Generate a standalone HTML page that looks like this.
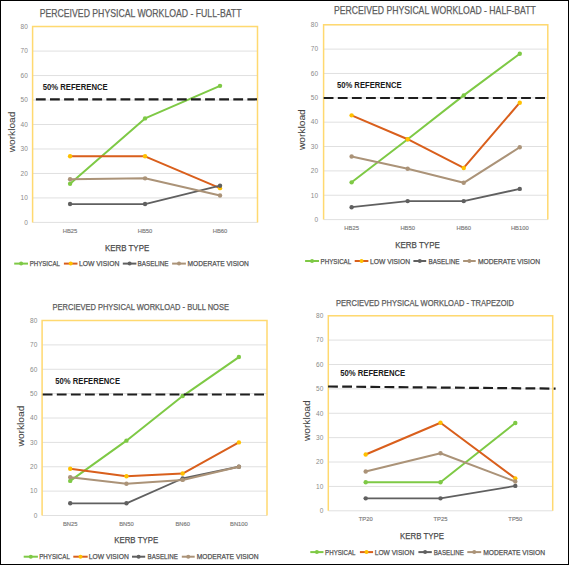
<!DOCTYPE html>
<html><head><meta charset="utf-8"><style>
html,body{margin:0;padding:0;background:#fff;}
body{width:569px;height:565px;overflow:hidden;}
svg{display:block;font-family:"Liberation Sans", sans-serif;}
#w{width:569px;height:565px;}
</style></head><body>
<div id="w"><svg width="569" height="565" viewBox="0 0 569 565">
<rect x="0" y="0" width="569" height="565" fill="#fff"/>
<g>
<line x1="32.6" y1="222.4" x2="257.5" y2="222.4" stroke="#e0e0e0" stroke-width="1"/>
<line x1="32.6" y1="197.93" x2="257.5" y2="197.93" stroke="#e0e0e0" stroke-width="1"/>
<line x1="32.6" y1="173.45" x2="257.5" y2="173.45" stroke="#e0e0e0" stroke-width="1"/>
<line x1="32.6" y1="148.97" x2="257.5" y2="148.97" stroke="#e0e0e0" stroke-width="1"/>
<line x1="32.6" y1="124.5" x2="257.5" y2="124.5" stroke="#e0e0e0" stroke-width="1"/>
<line x1="32.6" y1="100.02" x2="257.5" y2="100.02" stroke="#e0e0e0" stroke-width="1"/>
<line x1="32.6" y1="75.55" x2="257.5" y2="75.55" stroke="#e0e0e0" stroke-width="1"/>
<line x1="32.6" y1="51.07" x2="257.5" y2="51.07" stroke="#e0e0e0" stroke-width="1"/>
<line x1="32.6" y1="26.6" x2="257.5" y2="26.6" stroke="#e0e0e0" stroke-width="1"/>
<path d="M32.6 222.4 V26.6 H257.5 V222.4" fill="none" stroke="#ffd970" stroke-width="1.5"/>
<text x="27.8" y="224.7" font-size="6.5" fill="#8a8a8a" text-anchor="end">0</text>
<text x="27.8" y="200.23" font-size="6.5" fill="#8a8a8a" text-anchor="end">10</text>
<text x="27.8" y="175.75" font-size="6.5" fill="#8a8a8a" text-anchor="end">20</text>
<text x="27.8" y="151.28" font-size="6.5" fill="#8a8a8a" text-anchor="end">30</text>
<text x="27.8" y="126.8" font-size="6.5" fill="#8a8a8a" text-anchor="end">40</text>
<text x="27.8" y="102.32" font-size="6.5" fill="#8a8a8a" text-anchor="end">50</text>
<text x="27.8" y="77.85" font-size="6.5" fill="#8a8a8a" text-anchor="end">60</text>
<text x="27.8" y="53.37" font-size="6.5" fill="#8a8a8a" text-anchor="end">70</text>
<text x="27.8" y="28.9" font-size="6.5" fill="#8a8a8a" text-anchor="end">80</text>
<text x="39.7" y="16.8" font-size="11" fill="#5c5c5c" font-weight="normal" textLength="201.8" lengthAdjust="spacingAndGlyphs" stroke="#5c5c5c" stroke-width="0.25">PERCEIVED PHYSICAL WORKLOAD - FULL-BATT</text>
<text transform="translate(14.7 152.2) rotate(-90)" x="0" y="0" font-size="8.6" fill="#454545" stroke="#454545" stroke-width="0.08" textLength="40.5" lengthAdjust="spacingAndGlyphs">workload</text>
<text x="42.7" y="90.3" font-size="9.6" fill="#1a1a1a" font-weight="bold" textLength="65" lengthAdjust="spacingAndGlyphs">50% REFERENCE</text>
<text x="70.08" y="232.7" font-size="5.8" fill="#7a7a7a" stroke="#7a7a7a" stroke-width="0.15" text-anchor="middle">HB25</text>
<text x="145.05" y="232.7" font-size="5.8" fill="#7a7a7a" stroke="#7a7a7a" stroke-width="0.15" text-anchor="middle">HB50</text>
<text x="220.02" y="232.7" font-size="5.8" fill="#7a7a7a" stroke="#7a7a7a" stroke-width="0.15" text-anchor="middle">HB60</text>
<text x="104.9" y="251" font-size="9.8" fill="#4a4a4a" font-weight="normal" textLength="44.3" lengthAdjust="spacingAndGlyphs" stroke="#4a4a4a" stroke-width="0.25">KERB TYPE</text>
<polyline points="70.08,183.73 145.05,118.38 220.02,85.83" fill="none" stroke="#7ec945" stroke-width="2" stroke-linejoin="round"/>
<circle cx="70.08" cy="183.73" r="2.2" fill="#7ec945"/>
<circle cx="145.05" cy="118.38" r="2.2" fill="#7ec945"/>
<circle cx="220.02" cy="85.83" r="2.2" fill="#7ec945"/>
<polyline points="70.08,156.32 145.05,156.32 220.02,188.13" fill="none" stroke="#d95f1c" stroke-width="2" stroke-linejoin="round"/>
<circle cx="70.08" cy="156.32" r="2.2" fill="#ffc000"/>
<circle cx="145.05" cy="156.32" r="2.2" fill="#ffc000"/>
<circle cx="220.02" cy="188.13" r="2.2" fill="#ffc000"/>
<polyline points="70.08,204.04 145.05,204.04 220.02,185.69" fill="none" stroke="#606060" stroke-width="1.8" stroke-linejoin="round"/>
<circle cx="70.08" cy="204.04" r="2.2" fill="#606060"/>
<circle cx="145.05" cy="204.04" r="2.2" fill="#606060"/>
<circle cx="220.02" cy="185.69" r="2.2" fill="#606060"/>
<polyline points="70.08,179.32 145.05,178.34 220.02,195.48" fill="none" stroke="#ab9378" stroke-width="2" stroke-linejoin="round"/>
<circle cx="70.08" cy="179.32" r="2.2" fill="#ab9378"/>
<circle cx="145.05" cy="178.34" r="2.2" fill="#ab9378"/>
<circle cx="220.02" cy="195.48" r="2.2" fill="#ab9378"/>
<line x1="35.9" y1="99.3" x2="257" y2="99.3" stroke="#1e1e1e" stroke-width="2.2" stroke-dasharray="9.8 4.3"/>
<line x1="14.2" y1="263.6" x2="28" y2="263.6" stroke="#7ec945" stroke-width="2"/>
<circle cx="21.1" cy="263.6" r="2" fill="#7ec945"/>
<text x="29.7" y="266.2" font-size="7.8" fill="#505050" font-weight="normal" textLength="30.2" lengthAdjust="spacingAndGlyphs" stroke="#505050" stroke-width="0.25">PHYSICAL</text>
<line x1="63.9" y1="263.6" x2="77.5" y2="263.6" stroke="#d95f1c" stroke-width="2"/>
<circle cx="70.7" cy="263.6" r="2" fill="#ffc000"/>
<text x="79" y="266.2" font-size="7.8" fill="#505050" font-weight="normal" textLength="40.3" lengthAdjust="spacingAndGlyphs" stroke="#505050" stroke-width="0.25">LOW VISION</text>
<line x1="122.8" y1="263.6" x2="136.4" y2="263.6" stroke="#606060" stroke-width="2"/>
<circle cx="129.6" cy="263.6" r="2" fill="#606060"/>
<text x="137.5" y="266.2" font-size="7.8" fill="#505050" font-weight="normal" textLength="31.1" lengthAdjust="spacingAndGlyphs" stroke="#505050" stroke-width="0.25">BASELINE</text>
<line x1="172.1" y1="263.6" x2="185.9" y2="263.6" stroke="#ab9378" stroke-width="2"/>
<circle cx="179" cy="263.6" r="2" fill="#ab9378"/>
<text x="187.6" y="266.2" font-size="7.8" fill="#505050" font-weight="normal" textLength="61.3" lengthAdjust="spacingAndGlyphs" stroke="#505050" stroke-width="0.25">MODERATE VISION</text>
<line x1="323.6" y1="219.6" x2="547.8" y2="219.6" stroke="#e0e0e0" stroke-width="1"/>
<line x1="323.6" y1="195.24" x2="547.8" y2="195.24" stroke="#e0e0e0" stroke-width="1"/>
<line x1="323.6" y1="170.89" x2="547.8" y2="170.89" stroke="#e0e0e0" stroke-width="1"/>
<line x1="323.6" y1="146.53" x2="547.8" y2="146.53" stroke="#e0e0e0" stroke-width="1"/>
<line x1="323.6" y1="122.17" x2="547.8" y2="122.17" stroke="#e0e0e0" stroke-width="1"/>
<line x1="323.6" y1="97.82" x2="547.8" y2="97.82" stroke="#e0e0e0" stroke-width="1"/>
<line x1="323.6" y1="73.46" x2="547.8" y2="73.46" stroke="#e0e0e0" stroke-width="1"/>
<line x1="323.6" y1="49.11" x2="547.8" y2="49.11" stroke="#e0e0e0" stroke-width="1"/>
<line x1="323.6" y1="24.75" x2="547.8" y2="24.75" stroke="#e0e0e0" stroke-width="1"/>
<path d="M323.6 219.6 V24.75 H547.8 V219.6" fill="none" stroke="#ffd970" stroke-width="1.5"/>
<text x="318" y="221.9" font-size="6.5" fill="#8a8a8a" text-anchor="end">0</text>
<text x="318" y="197.54" font-size="6.5" fill="#8a8a8a" text-anchor="end">10</text>
<text x="318" y="173.19" font-size="6.5" fill="#8a8a8a" text-anchor="end">20</text>
<text x="318" y="148.83" font-size="6.5" fill="#8a8a8a" text-anchor="end">30</text>
<text x="318" y="124.47" font-size="6.5" fill="#8a8a8a" text-anchor="end">40</text>
<text x="318" y="100.12" font-size="6.5" fill="#8a8a8a" text-anchor="end">50</text>
<text x="318" y="75.76" font-size="6.5" fill="#8a8a8a" text-anchor="end">60</text>
<text x="318" y="51.41" font-size="6.5" fill="#8a8a8a" text-anchor="end">70</text>
<text x="318" y="27.05" font-size="6.5" fill="#8a8a8a" text-anchor="end">80</text>
<text x="334.1" y="13.7" font-size="11" fill="#5c5c5c" font-weight="normal" textLength="201.7" lengthAdjust="spacingAndGlyphs" stroke="#5c5c5c" stroke-width="0.25">PERCEIVED PHYSICAL WORKLOAD - HALF-BATT</text>
<text transform="translate(304.8 150.1) rotate(-90)" x="0" y="0" font-size="8.6" fill="#454545" stroke="#454545" stroke-width="0.08" textLength="40.9" lengthAdjust="spacingAndGlyphs">workload</text>
<text x="336.9" y="88" font-size="9.6" fill="#1a1a1a" font-weight="bold" textLength="64.7" lengthAdjust="spacingAndGlyphs">50% REFERENCE</text>
<text x="351.62" y="229.9" font-size="5.8" fill="#7a7a7a" stroke="#7a7a7a" stroke-width="0.15" text-anchor="middle">HB25</text>
<text x="407.68" y="229.9" font-size="5.8" fill="#7a7a7a" stroke="#7a7a7a" stroke-width="0.15" text-anchor="middle">HB50</text>
<text x="463.72" y="229.9" font-size="5.8" fill="#7a7a7a" stroke="#7a7a7a" stroke-width="0.15" text-anchor="middle">HB60</text>
<text x="519.77" y="229.9" font-size="5.8" fill="#7a7a7a" stroke="#7a7a7a" stroke-width="0.15" text-anchor="middle">HB100</text>
<text x="395.2" y="248" font-size="9.8" fill="#4a4a4a" font-weight="normal" textLength="44.6" lengthAdjust="spacingAndGlyphs" stroke="#4a4a4a" stroke-width="0.25">KERB TYPE</text>
<polyline points="351.62,182.33 407.68,139.22 463.72,95.38 519.77,53.73" fill="none" stroke="#7ec945" stroke-width="2" stroke-linejoin="round"/>
<circle cx="351.62" cy="182.33" r="2.2" fill="#7ec945"/>
<circle cx="407.68" cy="139.22" r="2.2" fill="#7ec945"/>
<circle cx="463.72" cy="95.38" r="2.2" fill="#7ec945"/>
<circle cx="519.77" cy="53.73" r="2.2" fill="#7ec945"/>
<polyline points="351.62,115.36 407.68,139.22 463.72,167.96 519.77,102.69" fill="none" stroke="#d95f1c" stroke-width="2" stroke-linejoin="round"/>
<circle cx="351.62" cy="115.36" r="2.2" fill="#ffc000"/>
<circle cx="407.68" cy="139.22" r="2.2" fill="#ffc000"/>
<circle cx="463.72" cy="167.96" r="2.2" fill="#ffc000"/>
<circle cx="519.77" cy="102.69" r="2.2" fill="#ffc000"/>
<polyline points="351.62,207.18 407.68,201.09 463.72,201.09 519.77,188.91" fill="none" stroke="#606060" stroke-width="1.8" stroke-linejoin="round"/>
<circle cx="351.62" cy="207.18" r="2.2" fill="#606060"/>
<circle cx="407.68" cy="201.09" r="2.2" fill="#606060"/>
<circle cx="463.72" cy="201.09" r="2.2" fill="#606060"/>
<circle cx="519.77" cy="188.91" r="2.2" fill="#606060"/>
<polyline points="351.62,156.52 407.68,168.7 463.72,182.82 519.77,147.26" fill="none" stroke="#ab9378" stroke-width="2" stroke-linejoin="round"/>
<circle cx="351.62" cy="156.52" r="2.2" fill="#ab9378"/>
<circle cx="407.68" cy="168.7" r="2.2" fill="#ab9378"/>
<circle cx="463.72" cy="182.82" r="2.2" fill="#ab9378"/>
<circle cx="519.77" cy="147.26" r="2.2" fill="#ab9378"/>
<line x1="323.7" y1="98" x2="547" y2="98" stroke="#1e1e1e" stroke-width="2.2" stroke-dasharray="9.8 4.3"/>
<line x1="305.1" y1="261" x2="319" y2="261" stroke="#7ec945" stroke-width="2"/>
<circle cx="312.05" cy="261" r="2" fill="#7ec945"/>
<text x="320.6" y="263.6" font-size="7.8" fill="#505050" font-weight="normal" textLength="30.6" lengthAdjust="spacingAndGlyphs" stroke="#505050" stroke-width="0.25">PHYSICAL</text>
<line x1="354.7" y1="261" x2="368.4" y2="261" stroke="#d95f1c" stroke-width="2"/>
<circle cx="361.55" cy="261" r="2" fill="#ffc000"/>
<text x="370" y="263.6" font-size="7.8" fill="#505050" font-weight="normal" textLength="40" lengthAdjust="spacingAndGlyphs" stroke="#505050" stroke-width="0.25">LOW VISION</text>
<line x1="413.4" y1="261" x2="426.2" y2="261" stroke="#606060" stroke-width="2"/>
<circle cx="419.8" cy="261" r="2" fill="#606060"/>
<text x="428.4" y="263.6" font-size="7.8" fill="#505050" font-weight="normal" textLength="31.1" lengthAdjust="spacingAndGlyphs" stroke="#505050" stroke-width="0.25">BASELINE</text>
<line x1="463.1" y1="261" x2="475.7" y2="261" stroke="#ab9378" stroke-width="2"/>
<circle cx="469.4" cy="261" r="2" fill="#ab9378"/>
<text x="477.9" y="263.6" font-size="7.8" fill="#505050" font-weight="normal" textLength="62.1" lengthAdjust="spacingAndGlyphs" stroke="#505050" stroke-width="0.25">MODERATE VISION</text>
<line x1="42.1" y1="515.5" x2="267" y2="515.5" stroke="#e0e0e0" stroke-width="1"/>
<line x1="42.1" y1="491.12" x2="267" y2="491.12" stroke="#e0e0e0" stroke-width="1"/>
<line x1="42.1" y1="466.75" x2="267" y2="466.75" stroke="#e0e0e0" stroke-width="1"/>
<line x1="42.1" y1="442.38" x2="267" y2="442.38" stroke="#e0e0e0" stroke-width="1"/>
<line x1="42.1" y1="418" x2="267" y2="418" stroke="#e0e0e0" stroke-width="1"/>
<line x1="42.1" y1="393.62" x2="267" y2="393.62" stroke="#e0e0e0" stroke-width="1"/>
<line x1="42.1" y1="369.25" x2="267" y2="369.25" stroke="#e0e0e0" stroke-width="1"/>
<line x1="42.1" y1="344.88" x2="267" y2="344.88" stroke="#e0e0e0" stroke-width="1"/>
<line x1="42.1" y1="320.5" x2="267" y2="320.5" stroke="#e0e0e0" stroke-width="1"/>
<path d="M42.1 515.5 V320.5 H267 V515.5" fill="none" stroke="#ffd970" stroke-width="1.5"/>
<text x="37.3" y="517.8" font-size="6.5" fill="#8a8a8a" text-anchor="end">0</text>
<text x="37.3" y="493.43" font-size="6.5" fill="#8a8a8a" text-anchor="end">10</text>
<text x="37.3" y="469.05" font-size="6.5" fill="#8a8a8a" text-anchor="end">20</text>
<text x="37.3" y="444.68" font-size="6.5" fill="#8a8a8a" text-anchor="end">30</text>
<text x="37.3" y="420.3" font-size="6.5" fill="#8a8a8a" text-anchor="end">40</text>
<text x="37.3" y="395.93" font-size="6.5" fill="#8a8a8a" text-anchor="end">50</text>
<text x="37.3" y="371.55" font-size="6.5" fill="#8a8a8a" text-anchor="end">60</text>
<text x="37.3" y="347.18" font-size="6.5" fill="#8a8a8a" text-anchor="end">70</text>
<text x="37.3" y="322.8" font-size="6.5" fill="#8a8a8a" text-anchor="end">80</text>
<text x="52.6" y="310.3" font-size="8.4" fill="#5c5c5c" font-weight="normal" textLength="176.3" lengthAdjust="spacingAndGlyphs" stroke="#5c5c5c" stroke-width="0.25">PERCIEVED PHYSICAL WORKLOAD - BULL NOSE</text>
<text transform="translate(24.1 446.5) rotate(-90)" x="0" y="0" font-size="8.6" fill="#454545" stroke="#454545" stroke-width="0.08" textLength="40.9" lengthAdjust="spacingAndGlyphs">workload</text>
<text x="55.3" y="383.5" font-size="9.6" fill="#1a1a1a" font-weight="bold" textLength="64.7" lengthAdjust="spacingAndGlyphs">50% REFERENCE</text>
<text x="70.21" y="525.5" font-size="5.8" fill="#7a7a7a" stroke="#7a7a7a" stroke-width="0.15" text-anchor="middle">BN25</text>
<text x="126.44" y="525.5" font-size="5.8" fill="#7a7a7a" stroke="#7a7a7a" stroke-width="0.15" text-anchor="middle">BN50</text>
<text x="182.66" y="525.5" font-size="5.8" fill="#7a7a7a" stroke="#7a7a7a" stroke-width="0.15" text-anchor="middle">BN60</text>
<text x="238.89" y="525.5" font-size="5.8" fill="#7a7a7a" stroke="#7a7a7a" stroke-width="0.15" text-anchor="middle">BN100</text>
<text x="114.2" y="543.4" font-size="9.8" fill="#4a4a4a" font-weight="normal" textLength="44" lengthAdjust="spacingAndGlyphs" stroke="#4a4a4a" stroke-width="0.25">KERB TYPE</text>
<polyline points="70.21,480.89 126.44,440.67 182.66,396.06 238.89,357.06" fill="none" stroke="#7ec945" stroke-width="2" stroke-linejoin="round"/>
<circle cx="70.21" cy="480.89" r="2.2" fill="#7ec945"/>
<circle cx="126.44" cy="440.67" r="2.2" fill="#7ec945"/>
<circle cx="182.66" cy="396.06" r="2.2" fill="#7ec945"/>
<circle cx="238.89" cy="357.06" r="2.2" fill="#7ec945"/>
<polyline points="70.21,468.7 126.44,476.26 182.66,473.57 238.89,442.38" fill="none" stroke="#d95f1c" stroke-width="2" stroke-linejoin="round"/>
<circle cx="70.21" cy="468.7" r="2.2" fill="#ffc000"/>
<circle cx="126.44" cy="476.26" r="2.2" fill="#ffc000"/>
<circle cx="182.66" cy="473.57" r="2.2" fill="#ffc000"/>
<circle cx="238.89" cy="442.38" r="2.2" fill="#ffc000"/>
<polyline points="70.21,503.31 126.44,503.31 182.66,478.45 238.89,466.75" fill="none" stroke="#606060" stroke-width="1.8" stroke-linejoin="round"/>
<circle cx="70.21" cy="503.31" r="2.2" fill="#606060"/>
<circle cx="126.44" cy="503.31" r="2.2" fill="#606060"/>
<circle cx="182.66" cy="478.45" r="2.2" fill="#606060"/>
<circle cx="238.89" cy="466.75" r="2.2" fill="#606060"/>
<polyline points="70.21,477.23 126.44,483.81 182.66,479.91 238.89,466.75" fill="none" stroke="#ab9378" stroke-width="2" stroke-linejoin="round"/>
<circle cx="70.21" cy="477.23" r="2.2" fill="#ab9378"/>
<circle cx="126.44" cy="483.81" r="2.2" fill="#ab9378"/>
<circle cx="182.66" cy="479.91" r="2.2" fill="#ab9378"/>
<circle cx="238.89" cy="466.75" r="2.2" fill="#ab9378"/>
<line x1="42.7" y1="394.5" x2="266" y2="394.5" stroke="#1e1e1e" stroke-width="2.2" stroke-dasharray="9.8 4.3"/>
<line x1="23.7" y1="556.7" x2="37.9" y2="556.7" stroke="#7ec945" stroke-width="2"/>
<circle cx="30.8" cy="556.7" r="2" fill="#7ec945"/>
<text x="39.2" y="559.3" font-size="7.8" fill="#505050" font-weight="normal" textLength="30.7" lengthAdjust="spacingAndGlyphs" stroke="#505050" stroke-width="0.25">PHYSICAL</text>
<line x1="73.3" y1="556.7" x2="87.7" y2="556.7" stroke="#d95f1c" stroke-width="2"/>
<circle cx="80.5" cy="556.7" r="2" fill="#ffc000"/>
<text x="88.8" y="559.3" font-size="7.8" fill="#505050" font-weight="normal" textLength="40" lengthAdjust="spacingAndGlyphs" stroke="#505050" stroke-width="0.25">LOW VISION</text>
<line x1="132" y1="556.7" x2="145.2" y2="556.7" stroke="#606060" stroke-width="2"/>
<circle cx="138.6" cy="556.7" r="2" fill="#606060"/>
<text x="147.5" y="559.3" font-size="7.8" fill="#505050" font-weight="normal" textLength="30.4" lengthAdjust="spacingAndGlyphs" stroke="#505050" stroke-width="0.25">BASELINE</text>
<line x1="181.8" y1="556.7" x2="194.7" y2="556.7" stroke="#ab9378" stroke-width="2"/>
<circle cx="188.25" cy="556.7" r="2" fill="#ab9378"/>
<text x="196.7" y="559.3" font-size="7.8" fill="#505050" font-weight="normal" textLength="61.9" lengthAdjust="spacingAndGlyphs" stroke="#505050" stroke-width="0.25">MODERATE VISION</text>
<line x1="328.3" y1="510.8" x2="552.7" y2="510.8" stroke="#e0e0e0" stroke-width="1"/>
<line x1="328.3" y1="486.41" x2="552.7" y2="486.41" stroke="#e0e0e0" stroke-width="1"/>
<line x1="328.3" y1="462.02" x2="552.7" y2="462.02" stroke="#e0e0e0" stroke-width="1"/>
<line x1="328.3" y1="437.64" x2="552.7" y2="437.64" stroke="#e0e0e0" stroke-width="1"/>
<line x1="328.3" y1="413.25" x2="552.7" y2="413.25" stroke="#e0e0e0" stroke-width="1"/>
<line x1="328.3" y1="388.86" x2="552.7" y2="388.86" stroke="#e0e0e0" stroke-width="1"/>
<line x1="328.3" y1="364.48" x2="552.7" y2="364.48" stroke="#e0e0e0" stroke-width="1"/>
<line x1="328.3" y1="340.09" x2="552.7" y2="340.09" stroke="#e0e0e0" stroke-width="1"/>
<line x1="328.3" y1="315.7" x2="552.7" y2="315.7" stroke="#e0e0e0" stroke-width="1"/>
<path d="M328.3 510.8 V315.7 H552.7 V510.8" fill="none" stroke="#ffd970" stroke-width="1.5"/>
<text x="323.3" y="513.1" font-size="6.5" fill="#8a8a8a" text-anchor="end">0</text>
<text x="323.3" y="488.71" font-size="6.5" fill="#8a8a8a" text-anchor="end">10</text>
<text x="323.3" y="464.32" font-size="6.5" fill="#8a8a8a" text-anchor="end">20</text>
<text x="323.3" y="439.94" font-size="6.5" fill="#8a8a8a" text-anchor="end">30</text>
<text x="323.3" y="415.55" font-size="6.5" fill="#8a8a8a" text-anchor="end">40</text>
<text x="323.3" y="391.16" font-size="6.5" fill="#8a8a8a" text-anchor="end">50</text>
<text x="323.3" y="366.78" font-size="6.5" fill="#8a8a8a" text-anchor="end">60</text>
<text x="323.3" y="342.39" font-size="6.5" fill="#8a8a8a" text-anchor="end">70</text>
<text x="323.3" y="318" font-size="6.5" fill="#8a8a8a" text-anchor="end">80</text>
<text x="336" y="305.8" font-size="8.4" fill="#5c5c5c" font-weight="normal" textLength="178" lengthAdjust="spacingAndGlyphs" stroke="#5c5c5c" stroke-width="0.25">PERCIEVED PHYSICAL WORKLOAD - TRAPEZOID</text>
<text transform="translate(309.6 441) rotate(-90)" x="0" y="0" font-size="8.6" fill="#454545" stroke="#454545" stroke-width="0.08" textLength="40.6" lengthAdjust="spacingAndGlyphs">workload</text>
<text x="340.2" y="376.2" font-size="9.6" fill="#1a1a1a" font-weight="bold" textLength="65" lengthAdjust="spacingAndGlyphs">50% REFERENCE</text>
<text x="365.7" y="520.5" font-size="5.8" fill="#7a7a7a" stroke="#7a7a7a" stroke-width="0.15" text-anchor="middle">TP20</text>
<text x="440.5" y="520.5" font-size="5.8" fill="#7a7a7a" stroke="#7a7a7a" stroke-width="0.15" text-anchor="middle">TP25</text>
<text x="515.3" y="520.5" font-size="5.8" fill="#7a7a7a" stroke="#7a7a7a" stroke-width="0.15" text-anchor="middle">TP50</text>
<text x="400.1" y="539.3" font-size="9.8" fill="#4a4a4a" font-weight="normal" textLength="44" lengthAdjust="spacingAndGlyphs" stroke="#4a4a4a" stroke-width="0.25">KERB TYPE</text>
<polyline points="365.7,482.27 440.5,482.27 515.3,423" fill="none" stroke="#7ec945" stroke-width="2" stroke-linejoin="round"/>
<circle cx="365.7" cy="482.27" r="2.2" fill="#7ec945"/>
<circle cx="440.5" cy="482.27" r="2.2" fill="#7ec945"/>
<circle cx="515.3" cy="423" r="2.2" fill="#7ec945"/>
<polyline points="365.7,454.46 440.5,422.76 515.3,478.36" fill="none" stroke="#d95f1c" stroke-width="2" stroke-linejoin="round"/>
<circle cx="365.7" cy="454.46" r="2.2" fill="#ffc000"/>
<circle cx="440.5" cy="422.76" r="2.2" fill="#ffc000"/>
<circle cx="515.3" cy="478.36" r="2.2" fill="#ffc000"/>
<polyline points="365.7,498.36 440.5,498.36 515.3,485.92" fill="none" stroke="#606060" stroke-width="1.8" stroke-linejoin="round"/>
<circle cx="365.7" cy="498.36" r="2.2" fill="#606060"/>
<circle cx="440.5" cy="498.36" r="2.2" fill="#606060"/>
<circle cx="515.3" cy="485.92" r="2.2" fill="#606060"/>
<polyline points="365.7,471.54 440.5,453.25 515.3,481.54" fill="none" stroke="#ab9378" stroke-width="2" stroke-linejoin="round"/>
<circle cx="365.7" cy="471.54" r="2.2" fill="#ab9378"/>
<circle cx="440.5" cy="453.25" r="2.2" fill="#ab9378"/>
<circle cx="515.3" cy="481.54" r="2.2" fill="#ab9378"/>
<line x1="328.1" y1="386.5" x2="555.6" y2="388.6" stroke="#1e1e1e" stroke-width="2.2" stroke-dasharray="9.8 4.3"/>
<line x1="310.3" y1="552.1" x2="323.5" y2="552.1" stroke="#7ec945" stroke-width="2"/>
<circle cx="316.9" cy="552.1" r="2" fill="#7ec945"/>
<text x="325.1" y="554.7" font-size="7.8" fill="#505050" font-weight="normal" textLength="30.4" lengthAdjust="spacingAndGlyphs" stroke="#505050" stroke-width="0.25">PHYSICAL</text>
<line x1="359.9" y1="552.1" x2="373.1" y2="552.1" stroke="#d95f1c" stroke-width="2"/>
<circle cx="366.5" cy="552.1" r="2" fill="#ffc000"/>
<text x="374.7" y="554.7" font-size="7.8" fill="#505050" font-weight="normal" textLength="39.5" lengthAdjust="spacingAndGlyphs" stroke="#505050" stroke-width="0.25">LOW VISION</text>
<line x1="418.4" y1="552.1" x2="431.8" y2="552.1" stroke="#606060" stroke-width="2"/>
<circle cx="425.1" cy="552.1" r="2" fill="#606060"/>
<text x="433.7" y="554.7" font-size="7.8" fill="#505050" font-weight="normal" textLength="30.2" lengthAdjust="spacingAndGlyphs" stroke="#505050" stroke-width="0.25">BASELINE</text>
<line x1="467.3" y1="552.1" x2="481.2" y2="552.1" stroke="#ab9378" stroke-width="2"/>
<circle cx="474.25" cy="552.1" r="2" fill="#ab9378"/>
<text x="483.2" y="554.7" font-size="7.8" fill="#505050" font-weight="normal" textLength="61.8" lengthAdjust="spacingAndGlyphs" stroke="#505050" stroke-width="0.25">MODERATE VISION</text>
<rect x="0.5" y="0.5" width="568" height="564" fill="none" stroke="#000" stroke-width="1"/>
</g>
</svg></div>
</body></html>
